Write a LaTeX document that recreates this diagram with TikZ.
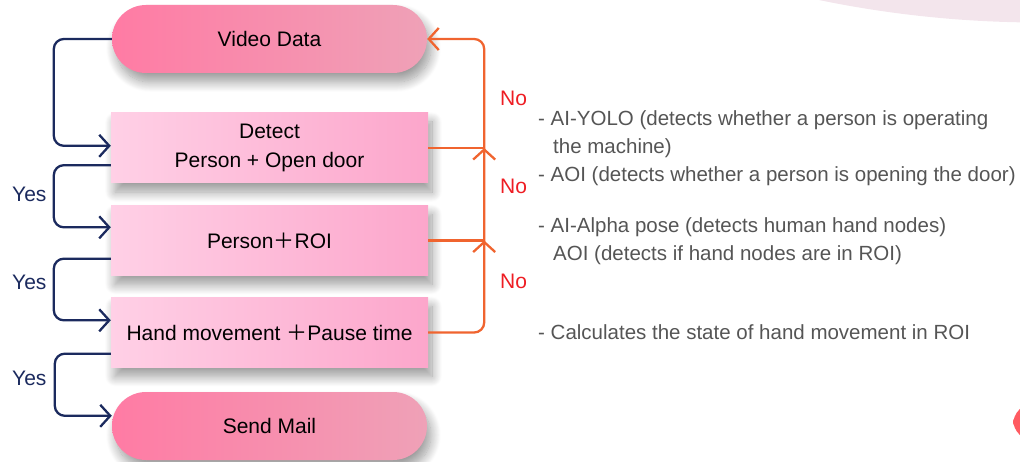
\documentclass[tikz,border=0pt]{standalone}
\usepackage{fontspec}
\setmainfont{Liberation Sans}
\newfontfamily\cjk{Noto Sans CJK SC}
\usetikzlibrary{arrows.meta,shadows.blur,calc}
\definecolor{navy}{HTML}{1B2A5E}
\definecolor{flowor}{HTML}{F0642F}
\definecolor{nored}{HTML}{EE1D23}
\definecolor{notegray}{HTML}{555555}
\definecolor{pillL}{HTML}{FF7BA4}
\definecolor{pillR}{HTML}{EFA1B7}
\definecolor{boxL}{HTML}{FFD0E6}
\definecolor{boxR}{HTML}{FCA6CB}
\definecolor{decopink}{HTML}{F3E5EC}
\definecolor{decored}{HTML}{FF5B61}
\begin{document}
\begin{tikzpicture}[x=1pt,y=-1pt,
  >={Straight Barb[length=10pt,width=22pt]},
  txt/.style={font=\fontsize{21}{29}\selectfont},
  notetxt/.style={font=\fontsize{20.5}{28}\selectfont},
  soft/.style={blur shadow={shadow xshift=4pt,shadow yshift=-9pt,shadow blur radius=10pt,shadow blur steps=14,shadow opacity=40}},
  pill/.style={rectangle,rounded corners=34pt,minimum width=315pt,minimum height=68pt,inner sep=0pt,
    left color=pillL,right color=pillR,soft,txt,text=black},
  stepbox/.style={rectangle,minimum width=317pt,minimum height=70pt,inner sep=0pt,align=center,
    left color=boxL,right color=boxR,soft,txt,text=black},
  yesline/.style={draw=navy,line width=2.3pt,rounded corners=10pt,->},
  noline/.style={draw=flowor,line width=2.3pt},
  yeslabel/.style={txt,text=navy,anchor=base west,inner sep=0pt},
  nolabel/.style={txt,text=nored,anchor=base west,inner sep=0pt},
  note/.style={notetxt,text=notegray,anchor=base west,inner sep=0pt}]
\useasboundingbox (0,0) rectangle (1020,462);

% slide decorations
\fill[decopink] (1040,-1064.5) circle (1087);
\fill[decored,rounded corners=22pt] (1013,441) -- (1013,403) -- (1070,403) -- (1070,441) -- cycle;

% flow steps
\node[pill] (vd) at (269.5,39) {Video Data};
\node[stepbox] (det) at (269.5,148) {Detect\\Person + Open door};
\node[stepbox] (roi) at (269.5,240.5) {Person{\cjk ＋}ROI};
\node[stepbox] (hand) at (269.5,332.5) {Hand movement {\cjk ＋}Pause time};
\node[pill] (mail) at (269.5,426) {Send Mail};

% "yes" path on the left
\draw[yesline] (vd.west) -| ($(det.north west)+(-57,33)$) -- ($(det.north west)+(0,33)$);
\draw[yesline] ($(det.south west)+(0,-18)$) -| ($(roi.north west)+(-57,22)$) -- ($(roi.north west)+(0,22)$);
\draw[yesline] ($(roi.south west)+(0,-17)$) -| ($(hand.north west)+(-57,23)$) -- ($(hand.north west)+(0,23)$);
\draw[yesline] ($(hand.south west)+(0,-14)$) -| ($(mail.north west)+(-57,24)$) -- ($(mail.north west)+(0,24)$);

\node[yeslabel] (y1) at (12,202) {Yes};
\node[yeslabel] (y2) at (12,290) {Yes};
\node[yeslabel] (y3) at (12,385) {Yes};

% "no" path back to the video source
\coordinate (j1) at ($(det.east)+(56,0)$);
\coordinate (j2) at ($(roi.east)+(56,0)$);
\coordinate (top) at ($(vd.east)+(57,0)$);
\draw[noline,rounded corners=10pt,->] (hand.east) -| (top) -- (vd.east);
\draw[noline] (det.east) -- (j1);
\draw[noline] (roi.east) -- (j2);
\draw[noline,->] ([yshift=-6pt]j1) -- (j1);
\draw[noline,->] ([yshift=-6pt]j2) -- (j2);

\node[nolabel] (n1) at (500,106) {No};
\node[nolabel] (n2) at (500,194) {No};
\node[nolabel] (n3) at (500,289) {No};

% method notes
\node[note] (t1) at (538,126) {- AI-YOLO (detects whether a person is operating};
\node[note] (t2) at (553,154) {the machine)};
\node[note] (t3) at (538,182) {- AOI (detects whether a person is opening the door)};
\node[note] (t4) at (538,233) {- AI-Alpha pose (detects human hand nodes)};
\node[note] (t5) at (553,261) {AOI (detects if hand nodes are in ROI)};
\node[note] (t6) at (538,339) {- Calculates the state of hand movement in ROI};
\end{tikzpicture}
\end{document}
